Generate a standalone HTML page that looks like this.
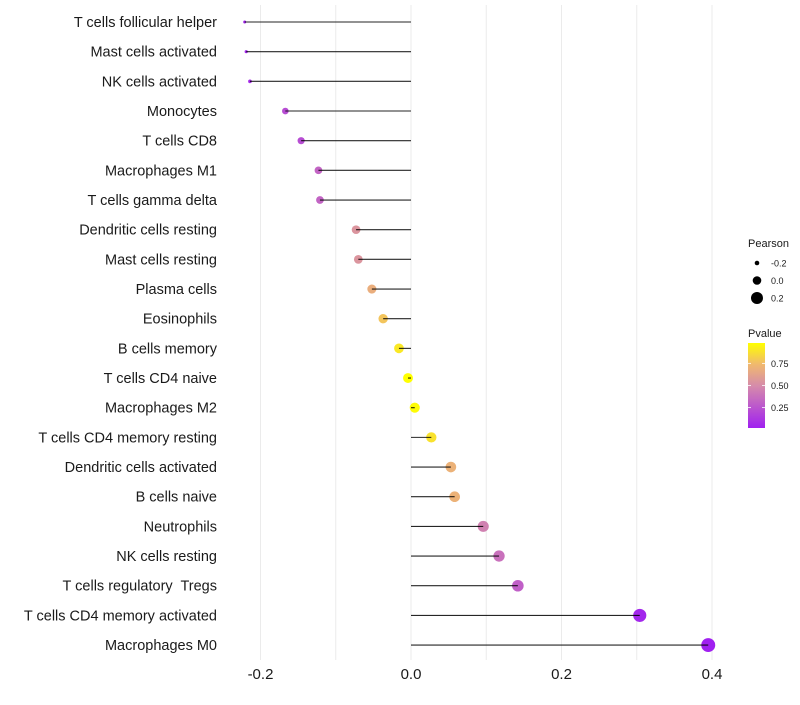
<!DOCTYPE html>
<html><head><meta charset="utf-8"><style>
body{margin:0;background:#fff;font-family:"Liberation Sans",sans-serif}
text{white-space:pre}
</style></head><body>
<svg id="chart" width="800" height="700" xmlns="http://www.w3.org/2000/svg" font-family="Liberation Sans, sans-serif"></svg>
<script>
const categories=["T cells follicular helper","Mast cells activated","NK cells activated","Monocytes","T cells CD8","Macrophages M1","T cells gamma delta","Dendritic cells resting","Mast cells resting","Plasma cells","Eosinophils","B cells memory","T cells CD4 naive","Macrophages M2","T cells CD4 memory resting","Dendritic cells activated","B cells naive","Neutrophils","NK cells resting","T cells regulatory  Tregs","T cells CD4 memory activated","Macrophages M0"];
const pearson=[-0.221,-0.219,-0.214,-0.167,-0.146,-0.123,-0.121,-0.073,-0.070,-0.052,-0.037,-0.016,-0.004,0.005,0.027,0.053,0.058,0.096,0.117,0.142,0.304,0.395];
const pvalue=[0.04,0.05,0.07,0.22,0.22,0.32,0.32,0.55,0.55,0.68,0.78,0.9,0.98,0.97,0.88,0.7,0.7,0.45,0.38,0.3,0.05,0.02];
const xTicks=[-0.2,0,0.2,0.4];
const xTickLabels=["-0.2","0.0","0.2","0.4"];
const sizeLegend=[-0.2,0,0.2];
const colorTicks=[0.25,0.5,0.75];

const svg=document.getElementById('chart');
const NS="http://www.w3.org/2000/svg";
function mk(t,a,p){const e=document.createElementNS(NS,t);for(const k in a)e.setAttribute(k,a[k]);(p||svg).appendChild(e);return e;}
const x=v=>411+v*752.5;
const y=i=>22+i*29.67;
const pmin=0.02,pmax=0.98;
// size scale (area), piecewise
const sizeDom=[-0.221,-0.167,0,0.4], sizeArea=[2.25,11,25,49];
function r(v){
 if(v<=sizeDom[0])return Math.sqrt(sizeArea[0]);
 for(let k=1;k<sizeDom.length;k++){if(v<=sizeDom[k]||k===sizeDom.length-1){const t=(v-sizeDom[k-1])/(sizeDom[k]-sizeDom[k-1]);return Math.sqrt(sizeArea[k-1]+(sizeArea[k]-sizeArea[k-1])*t);}}
}
function lerp(a,b,t){return a.map((c,i)=>Math.round(c+(b[i]-c)*t));}
const cStops=[0,0.5,0.75,1], cCols=[[160,32,240],[214,140,170],[240,185,110],[255,255,0]];
function col(p){let t=(p-pmin)/(pmax-pmin);t=Math.max(0,Math.min(1,t));
 for(let k=1;k<cStops.length;k++){if(t<=cStops[k])return `rgb(${lerp(cCols[k-1],cCols[k],(t-cStops[k-1])/(cStops[k]-cStops[k-1]))})`;}
 return `rgb(${cCols[3]})`;}

for(let v=-0.2;v<=0.41;v+=0.1){
 const g=mk('line',{x1:x(v),x2:x(v),y1:5,y2:660,stroke:'#ebebeb','stroke-width':1});
 
 
}
xTicks.forEach((v,i)=>{
 const t=mk('text',{x:x(v),y:679,'text-anchor':'middle','font-size':15,fill:'#1a1a1a'});
 t.textContent=xTickLabels[i];
 
 
});
categories.forEach((c,i)=>{
 const t=mk('text',{x:217,y:y(i)+5,'text-anchor':'end','font-size':14.5,fill:'#1a1a1a'});
 t.textContent=c;
 
 
 const d=mk('circle',{cx:x(pearson[i]),cy:y(i),r:r(pearson[i]),fill:col(pvalue[i])});
 
 
 const l=mk('line',{x1:x(0),x2:x(pearson[i]),y1:y(i),y2:y(i),stroke:'#000','stroke-width':1.1,'stroke-opacity':0.85});
 
 
});
let lt=mk('text',{x:748,y:247,'font-size':11,fill:'#1a1a1a'});lt.textContent='Pearson';


sizeLegend.forEach((v,i)=>{
 const cy=263+i*17.5;
 const c=mk('circle',{cx:757,cy:cy,r:[2.3,4.3,6][i],fill:'#000'});
 
 
 const t=mk('text',{x:771,y:cy+3.5,'font-size':9,fill:'#1a1a1a'});t.textContent=v===0?'0.0':String(v);
 
 
});
let ct=mk('text',{x:748,y:337,'font-size':11,fill:'#1a1a1a'});ct.textContent='Pvalue';


const defs=mk('defs',{});
const gr=mk('linearGradient',{id:'pg',x1:0,y1:1,x2:0,y2:0},defs);
for(let k=0;k<=20;k++){mk('stop',{offset:k/20,'stop-color':col(pmin+(pmax-pmin)*k/20)},gr);}
const bar=mk('rect',{x:748,y:343,width:17,height:85,fill:'url(#pg)'});


colorTicks.forEach(v=>{
 const yy=428-(v-pmin)/(pmax-pmin)*85;
 mk('line',{x1:748,x2:751,y1:yy,y2:yy,stroke:'#fff','stroke-width':0.8});
 mk('line',{x1:762,x2:765,y1:yy,y2:yy,stroke:'#fff','stroke-width':0.8});
 const t=mk('text',{x:771,y:yy+3.5,'font-size':9,fill:'#1a1a1a'});t.textContent=v.toFixed(2);
 
 
});
</script>
</body></html>
